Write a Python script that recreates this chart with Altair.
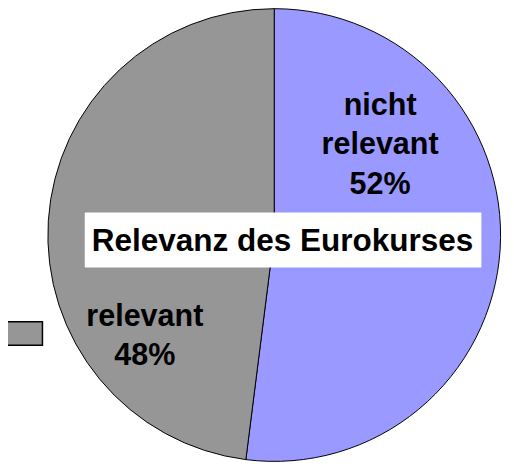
import altair as alt
import pandas as pd

categories = ["nicht relevant", "relevant"]
values = [52, 48]
colors = ["#9999FF", "#969696"]
title_text = "Relevanz des Eurokurses"

df = pd.DataFrame({
    "cat": categories,
    "value": values,
    "idx": list(range(len(categories))),
    "label": [c.replace(" ", "\n") + "\n" + f"{v}%" for c, v in zip(categories, values)],
})

CX, CY = 270.5, 227
FONT = "Liberation Sans"

base = alt.Chart(df).encode(
    theta=alt.Theta("value:Q", stack=True),
    order=alt.Order("idx:Q"),
    x=alt.value(CX),
    y=alt.value(CY),
)

pie = base.mark_arc(radius=230, stroke="black", strokeWidth=1).encode(
    color=alt.Color("cat:N", scale=alt.Scale(domain=categories, range=colors), legend=None)
)

lab1 = base.mark_text(
    radius=169.5, thetaOffset=-0.946, font=FONT, fontWeight="bold", fontSize=31,
    lineHeight=40, align="center", baseline="middle", lineBreak="\n", color="black",
).encode(text=alt.condition(alt.datum.cat == categories[0], "label:N", alt.value("")))

lab2 = base.mark_text(
    radius=155.5, thetaOffset=-0.626, font=FONT, fontWeight="bold", fontSize=31,
    lineHeight=40, align="center", baseline="middle", lineBreak="\n", color="black",
).encode(text=alt.condition(alt.datum.cat == categories[1], "label:N", alt.value("")))

box = alt.Chart(pd.DataFrame({"t": [title_text]})).mark_rect(color="white").encode(
    x=alt.value(78), x2=alt.value(481), y=alt.value(204), y2=alt.value(260)
)
title = alt.Chart(pd.DataFrame({"t": [title_text]})).mark_text(
    font=FONT, fontWeight="bold", fontSize=32, align="center", baseline="alphabetic", color="black"
).encode(text="t:N", x=alt.value(279), y=alt.value(243))

side = alt.Chart(pd.DataFrame({"t": [1]})).mark_rect(
    color="#969696", stroke="black", strokeWidth=1.5
).encode(x=alt.value(-12), x2=alt.value(35), y=alt.value(315), y2=alt.value(339))

chart = alt.layer(pie, lab1, lab2, box, title, side).properties(
    width=506, height=458, padding=0, autosize="none", background="white"
).configure_view(stroke=None)

chart.save("out.html", embed_options={"renderer": "svg", "actions": False})
